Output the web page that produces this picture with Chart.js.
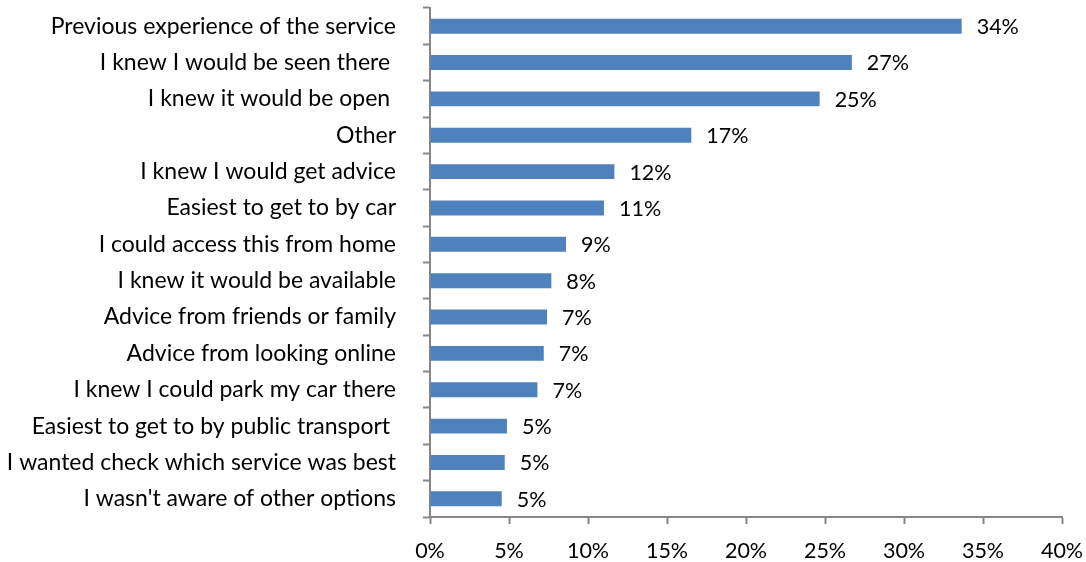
<!DOCTYPE html>
<html>
<head>
<meta charset="utf-8">
<script src="https://cdn.jsdelivr.net/npm/chart.js@4/dist/chart.umd.min.js"></script>
<style>
  html, body { margin: 0; padding: 0; background: #ffffff; }
  #wrap { width: 1086px; height: 562px; position: relative; }
</style>
</head>
<body>
<div id="wrap"><canvas id="chart" width="1086" height="562"></canvas></div>
<script>
// Reasons for choosing the service (share of respondents, %)
const categories = [
  "Previous experience of the service",
  "I knew I would be seen there ",
  "I knew it would be open ",
  "Other",
  "I knew I would get advice",
  "Easiest to get to by car",
  "I could access this from home",
  "I knew it would be available",
  "Advice from friends or family",
  "Advice from looking online",
  "I knew I could park my car there",
  "Easiest to get to by public transport ",
  "I wanted check which service was best",
  "I wasn't aware of other options"
];
const shares = [33.65, 26.7, 24.66, 16.54, 11.67, 11.01, 8.61, 7.68, 7.41, 7.2, 6.8, 4.87, 4.73, 4.54];
const xTicks = [0, 5, 10, 15, 20, 25, 30, 35, 40];

const FONT = "Lato, 'Open Sans', sans-serif";
const AXIS_GREY = "#868686";

// Writes the rounded percentage to the right of each bar
const valueLabels = {
  id: "valueLabels",
  afterDatasetsDraw(chart) {
    const ctx = chart.ctx;
    const meta = chart.getDatasetMeta(0);
    ctx.save();
    ctx.font = "21.5px " + FONT;
    ctx.fillStyle = "#000000";
    ctx.textAlign = "left";
    ctx.textBaseline = "middle";
    meta.data.forEach((bar, i) => {
      const v = chart.data.datasets[0].data[i];
      ctx.fillText(Math.round(v) + "%", bar.x + 15, bar.y + 1);
    });
    ctx.restore();
  }
};

new Chart(document.getElementById("chart"), {
  type: "bar",
  data: {
    labels: categories,
    datasets: [{
      data: shares,
      backgroundColor: "#4F81BD",
      borderColor: "#4F81BD",
      borderWidth: 0,
      barPercentage: 0.41,
      categoryPercentage: 1.0
    }]
  },
  options: {
    indexAxis: "y",
    responsive: false,
    animation: false,
    layout: { padding: { top: 8, right: 24, bottom: 0, left: 0 } },
    plugins: {
      legend: { display: false },
      tooltip: { enabled: false }
    },
    scales: {
      x: {
        min: 0,
        max: 40,
        afterBuildTicks(scale) {
          scale.ticks = xTicks.map(v => ({ value: v }));
        },
        afterFit(scale) {
          scale.height = 45;
          scale.paddingLeft = 0;
          scale.paddingRight = 0;
        },
        border: { color: AXIS_GREY, width: 2 },
        grid: {
          drawOnChartArea: false,
          drawTicks: true,
          tickLength: 7,
          tickColor: AXIS_GREY,
          tickWidth: 2
        },
        ticks: {
          color: "#000000",
          font: { family: FONT, size: 21.5 },
          padding: 14,
          maxRotation: 0,
          callback: v => v + "%"
        }
      },
      y: {
        afterFit(scale) {
          scale.width = 430;
          scale.paddingTop = 0;
          scale.paddingBottom = 0;
        },
        border: { color: AXIS_GREY, width: 2 },
        grid: {
          drawOnChartArea: false,
          drawTicks: true,
          tickLength: 7,
          tickColor: AXIS_GREY,
          tickWidth: 2,
          offset: true
        },
        ticks: {
          color: "#000000",
          font: { family: FONT, size: 23 },
          padding: 27,
          autoSkip: false
        }
      }
    }
  },
  plugins: [valueLabels]
});
</script>
</body>
</html>
